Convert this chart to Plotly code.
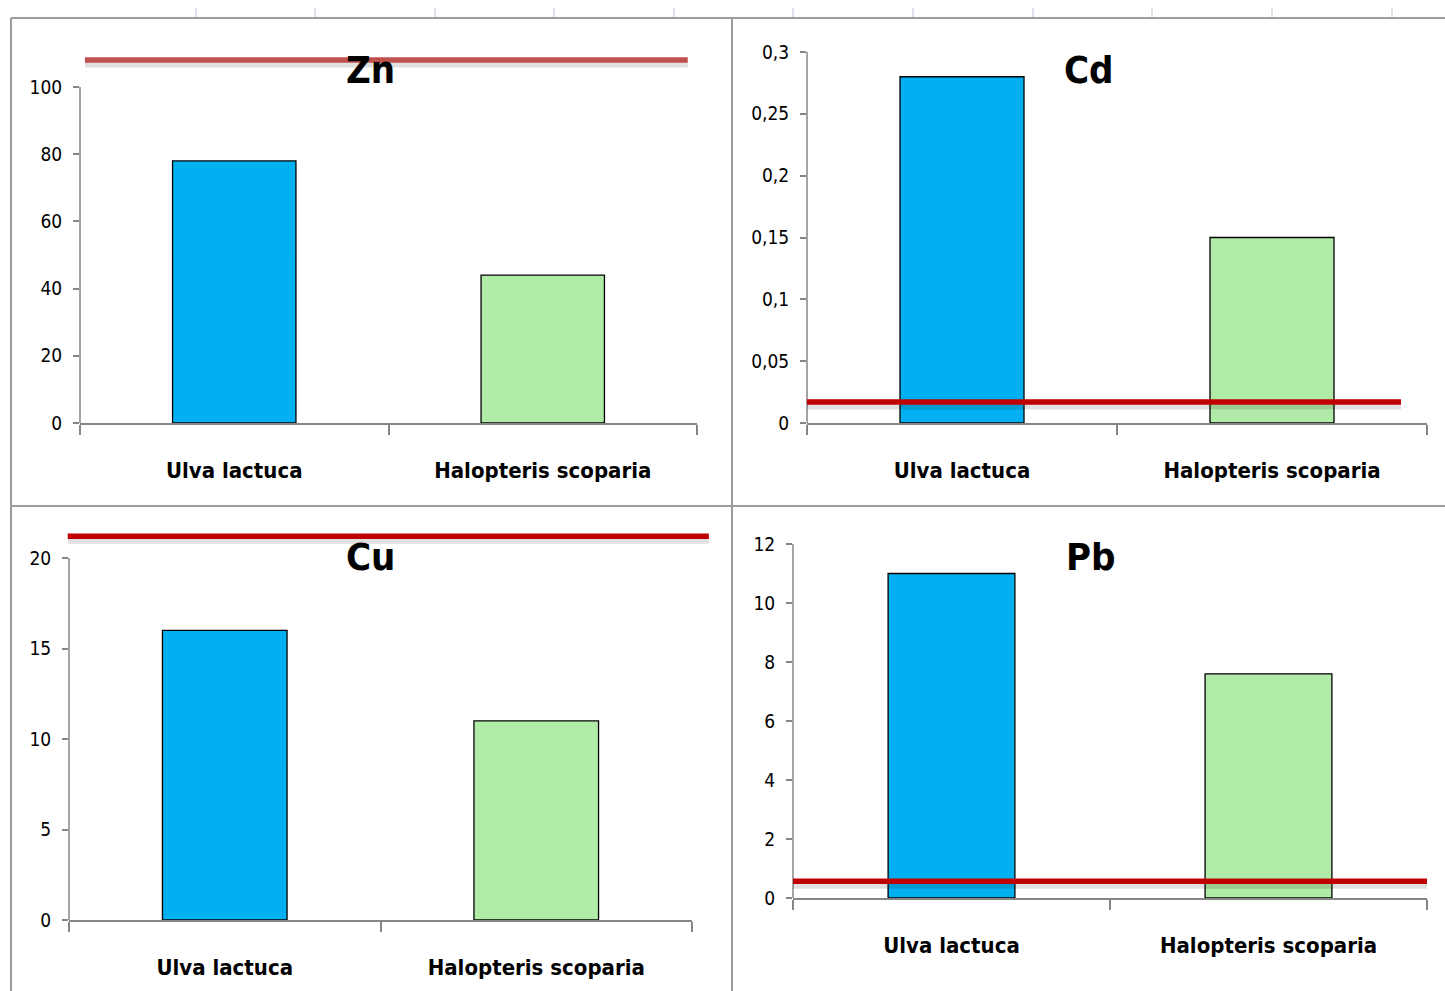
import plotly.graph_objects as go

# ---------------- data ----------------
categories = ["Ulva lactuca", "Halopteris scoparia"]
metals = ["Zn", "Cd", "Cu", "Pb"]
zn_values = [78, 44]
cd_values = [0.28, 0.15]
cu_values = [16, 11]
pb_values = [11, 7.6]
thresholds = [108, 0.017, 21.2, 0.57]
axis_max = [100, 0.3, 20, 12]
axis_dtick = [20, 0.05, 5, 2]
bar_colors = ["#00B0F0", "#B0EBA8"]
threshold_colors = ["#C0504D", "#C00000", "#C00000", "#C00000"]

values = [zn_values, cd_values, cu_values, pb_values]

# ---------------- layout geometry (pixels) ----------------
W, H = 1445, 991
panels = [
    dict(x0=80, x1=697, yzero=423, ymaxpx=87, top=112, red=(0.008, 0.985), title=(370, 70)),
    dict(x0=807, x1=1427, yzero=423, ymaxpx=52, top=0.3015, red=(0.0, 0.958), title=(1089, 70)),
    dict(x0=69, x1=692, yzero=920, ymaxpx=558, top=22, red=(-0.002, 1.027), title=(370, 557)),
    dict(x0=793, x1=1427, yzero=898, ymaxpx=544, top=12.2, red=(0.0, 1.0), title=(1091, 557)),
]

NARROW = "DejaVu Sans Condensed, Liberation Sans Narrow, Arial Narrow, sans-serif"
AXIS_GRAY = "#868686"

fig = go.Figure()
shapes = []
annotations = []
layout_axes = {}

for i, (p, vals) in enumerate(zip(panels, values)):
    n = "" if i == 0 else str(i + 1)
    xa, ya = "x" + n, "y" + n
    scale = (p["yzero"] - p["ymaxpx"]) / axis_max[i]
    top_px = p["yzero"] - p["top"] * scale
    xdom = [p["x0"] / W, p["x1"] / W]
    ydom = [1 - p["yzero"] / H, 1 - top_px / H]

    fig.add_trace(go.Bar(
        x=categories, y=vals, xaxis=xa, yaxis=ya,
        width=0.4,
        marker=dict(color=bar_colors, line=dict(color="#000000", width=1.3)),
        showlegend=False, hoverinfo="x+y",
    ))

    layout_axes["xaxis" + n] = dict(
        domain=xdom, anchor=ya, type="category", range=[-0.5, 1.5],
        automargin=False,
        showline=True, linecolor=AXIS_GRAY, linewidth=1.5,
        ticks="outside", tickson="boundaries", ticklen=10, tickcolor=AXIS_GRAY, tickwidth=1.5,
        showgrid=False, zeroline=False, fixedrange=True,
        tickfont=dict(family=NARROW, size=22, color="#000000", weight="bold"),
        ticklabelstandoff=27,
    )
    layout_axes["yaxis" + n] = dict(
        domain=ydom, anchor=xa, range=[0, p["top"]],
        automargin=False,
        tick0=0, dtick=axis_dtick[i],
        showline=False, showgrid=False, zeroline=False, fixedrange=True,
        ticks="outside", ticklen=6, tickcolor=AXIS_GRAY, tickwidth=1.5,
        tickfont=dict(family=NARROW, size=19, color="#000000"),
        ticklabelstandoff=7,
    )

    # y axis line only up to the axis maximum (Excel style)
    shapes.append(dict(type="line", xref=xa + " domain", yref=ya, x0=0, x1=0,
                       y0=0, y1=axis_max[i], line=dict(color=AXIS_GRAY, width=1.5), layer="above"))

    # threshold line with soft shadow
    rx0, rx1 = p["red"]
    shapes.append(dict(type="line", xref=xa + " domain", yref=ya, x0=rx0, x1=rx1,
                       ysizemode="pixel", yanchor=thresholds[i], y0=-4, y1=-4,
                       line=dict(color="rgba(0,0,0,0.12)", width=7), layer="above"))
    shapes.append(dict(type="line", xref=xa + " domain", yref=ya, x0=rx0, x1=rx1,
                       y0=thresholds[i], y1=thresholds[i],
                       line=dict(color=threshold_colors[i], width=5.5), layer="above"))

    tx, ty = p["title"]
    annotations.append(dict(text=metals[i], xref="paper", yref="paper",
                            x=tx / W, y=1 - ty / H, xanchor="center", yanchor="middle",
                            showarrow=False,
                            font=dict(family=NARROW, size=38, color="#000000", weight="bold")))

# ---------------- worksheet frame ----------------
FRAME = "#9C9C9C"
def px_line(x0, y0, x1, y1, color=FRAME, width=2):
    shapes.append(dict(type="line", xref="paper", yref="paper",
                       x0=x0 / W, x1=x1 / W, y0=1 - y0 / H, y1=1 - y1 / H,
                       line=dict(color=color, width=width), layer="below"))

px_line(11, 18, W, 18)            # top border
px_line(11, 18, 11, H)            # left border
px_line(732, 18, 732, H)          # vertical divider
px_line(11, 506, W, 506)          # horizontal divider
for gx in [196, 315, 435, 554, 674, 793, 913, 1033, 1152, 1272, 1392]:
    px_line(gx, 8, gx, 17, color="#D4DAE4", width=1.5)

fig.update_layout(
    width=W, height=H,
    margin=dict(l=0, r=0, t=0, b=0, autoexpand=False),
    paper_bgcolor="#FFFFFF", plot_bgcolor="rgba(0,0,0,0)",
    separators=", ",
    bargap=0.6,
    shapes=shapes, annotations=annotations,
    **layout_axes,
)

fig.write_html("out.html")
